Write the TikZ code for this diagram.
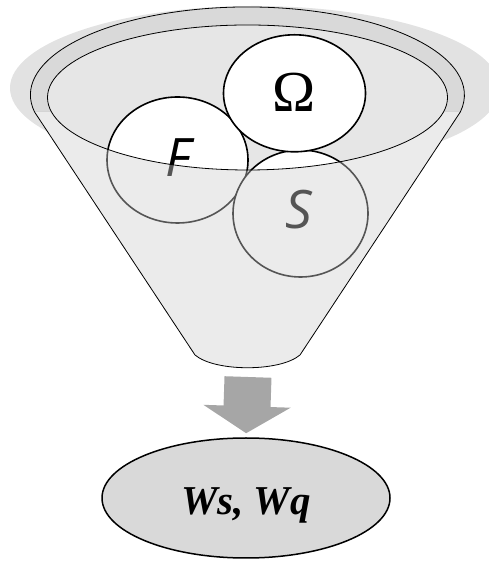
\documentclass[tikz,border=0pt]{standalone}
\usepackage{fontspec}
\setmainfont{Liberation Serif}
\newfontfamily\fsans{Open Sans}
\usetikzlibrary{arrows.meta,shapes.geometric}
\definecolor{shadowgray}{HTML}{E2E2E2}
\definecolor{ringgray}{HTML}{D9D9D9}
\definecolor{bowlgray}{HTML}{E6E6E6}
\definecolor{frontgray}{HTML}{CFCFCF}
\definecolor{arrowgray}{HTML}{A6A6A6}
\definecolor{resgray}{HTML}{D9D9D9}
\begin{document}
\begin{tikzpicture}[x=1pt, y=1pt, line join=round, line cap=round,
		set/.style={draw=black, line width=1.6pt, fill=white},
		lab/.style={anchor=base, inner sep=0pt},
		resbox/.style={ellipse, draw=black, line width=1.5pt, fill=resgray, minimum width=288pt, minimum height=120pt, inner sep=0pt}]
				\useasboundingbox (0,0) rectangle (488,561);
				\coordinate (L) at (34.5,449.1);
				\coordinate (R) at (460.5,449.1);
				\coordinate (BL) at (195,206);
				\coordinate (BR) at (300,206);
				\coordinate (O) at (247.5,466);
				\coordinate (I) at (247.5,463.5);
				
				% shadow and funnel body
				\fill[shadowgray] (255,473) ellipse[x radius=245, y radius=82];
				\fill[white] (L) arc[start angle=191.1, end angle=-11.1, x radius=217, y radius=88] -- (BR) .. controls (280,189) and (215,189) .. (BL) -- cycle;
				\fill[ringgray] (L) arc[start angle=191.1, end angle=-11.1, x radius=217, y radius=88] -- cycle;
				\fill[bowlgray] (I) ellipse[x radius=200, y radius=72.5];
				
				% the three sets
				\draw[set] (177.5,401) ellipse[x radius=70.5, y radius=63];
				\draw[set] (300.5,347.5) ellipse[x radius=67.5, y radius=63.5];
				\draw[set] (294.5,467.7) ellipse[x radius=71, y radius=58.5];
				\node[lab, font=\fontsize{58}{58}\selectfont] (om) at (294.5,449) {Ω};
				\node[lab, font=\fsans\itshape\fontsize{53}{53}\selectfont] (f) at (178,384) {F};
				\node[lab, font=\fsans\itshape\fontsize{53}{53}\selectfont] (s) at (299,332) {S};
				
				% front of the funnel
				\begin{scope}
					\clip (0,0) rectangle (488,449.1);
					\fill[frontgray, fill opacity=0.41, even odd rule] (L) arc[start angle=191.1, end angle=-11.1, x radius=217, y radius=88] -- (BR) .. controls (280,189) and (215,189) .. (BL) -- cycle (I) ellipse[x radius=200, y radius=72.5];
				\end{scope}
				\draw[thick] (L) arc[start angle=191.1, end angle=-11.1, x radius=217, y radius=88] -- (BR) .. controls (280,189) and (215,189) .. (BL) -- cycle;
				\draw[thick] (I) ellipse[x radius=200, y radius=72.5];
				
				% result
				\coordinate (out) at (248,184);
				\node[resbox] (res) at (246,63) {};
				\node[lab, font=\fontsize{41}{41}\selectfont\bfseries\itshape] (wsq) at ([yshift=-17pt]res.center) {Ws, Wq};
				\draw[arrowgray, line width=47pt, line cap=butt, -{Triangle[width=86pt, length=27pt]}, shorten >=4pt] (out) -- (res.north);
			\end{tikzpicture}
\end{document}
